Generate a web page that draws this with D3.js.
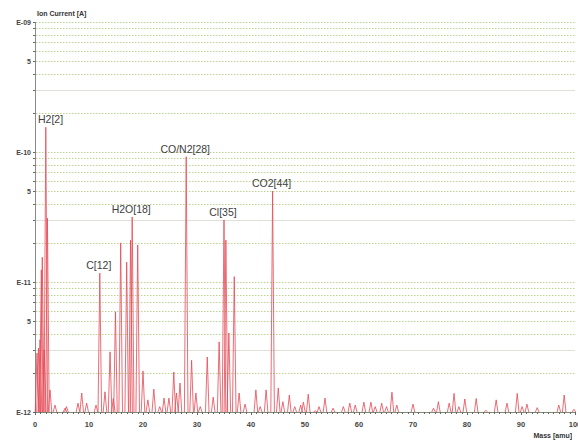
<!DOCTYPE html>
<html>
<head>
<meta charset="utf-8">
<script src="https://cdn.jsdelivr.net/npm/d3@7/dist/d3.min.js"></script>
<style>
  html, body { margin: 0; padding: 0; background: #ffffff; }
  svg { display: block; }
  text { font-family: "Liberation Sans", Arial, sans-serif; }
</style>
</head>
<body>
<svg id="chart" width="578" height="440"></svg>
<script>
// Mass spectrum: peak positions (amu) and peak ion currents (A)
const peakMass = [
  0.37, 0.65, 0.93, 1.17, 1.35, 1.72, 2, 2.3, 2.78, 3.7, 5.56, 5.83, 7.96, 8.65, 9.57,
  11.3, 12, 12.96, 13.9, 14.5, 14.9, 15.87, 16.98, 17.7, 18, 19.02, 20.0, 20.9, 22.0,
  23.1, 23.9, 24.8, 25.7, 26.2, 26.85, 28, 29.0, 29.8, 30.6, 31.9, 33.0, 34.1, 35,
  35.35, 35.9, 36.9, 37.8, 38.9, 40.9, 41.7, 42.8, 44, 45.05, 45.9, 47.1, 48.1, 49.2,
  49.7, 50.6, 51.9, 52.6, 53.7, 55.2, 57.1, 58.3, 59.3, 60.9, 62.2, 63.0, 64.2, 65.1,
  66.1, 67.0, 70.0, 73.8, 74.7, 76.7, 77.6, 78.5, 79.6, 81.7, 83.5, 85.4, 87.4, 89.3,
  90.2, 91.1, 93.0, 97.0, 98.0, 99.8
];
const peakCurrent = [
  2.84e-12, 3.1e-12, 3.6e-12, 1.24e-11, 1.55e-11, 3.0e-12, 1.55e-10, 3.1e-11, 1.48e-12, 1.13e-12, 1.07e-12, 1.1e-12, 1.17e-12, 1.4e-12, 1.17e-12,
  1.13e-12, 1.17e-11, 1.43e-12, 2.9e-12, 1.27e-12, 5.9e-12, 2.0e-11, 1.42e-11, 2.1e-11, 3.16e-11, 1.93e-11, 2.07e-12, 1.24e-12, 1.5e-12,
  1.1e-12, 1.28e-12, 1.28e-12, 2.03e-12, 1.4e-12, 1.67e-12, 9.2e-11, 2.5e-12, 1.4e-12, 1.1e-12, 2.65e-12, 1.3e-12, 3.46e-12, 3.0e-11,
  2.1e-11, 4.05e-12, 1.1e-11, 1.4e-12, 1.15e-12, 1.48e-12, 1.1e-12, 1.48e-12, 5.0e-11, 1.53e-12, 1.2e-12, 1.35e-12, 1.1e-12, 1.13e-12,
  1.19e-12, 1.37e-12, 1.02e-12, 1.1e-12, 1.28e-12, 1.07e-12, 1.1e-12, 1.17e-12, 1.13e-12, 1.19e-12, 1.19e-12, 1.1e-12, 1.17e-12, 1.1e-12,
  1.42e-12, 1.13e-12, 1.15e-12, 1.07e-12, 1.2e-12, 1.17e-12, 1.39e-12, 1.1e-12, 1.26e-12, 1.27e-12, 1.03e-12, 1.24e-12, 1.17e-12, 1.39e-12,
  1.1e-12, 1.15e-12, 1.08e-12, 1.13e-12, 1.35e-12, 1.05e-12
];

// Identified species and their nominal masses
const speciesNames = ["H2[2]", "C[12]", "H2O[18]", "CO/N2[28]", "Cl[35]", "CO2[44]"];
const speciesMass = [2, 12, 18, 28, 35, 44];

// Axis ticks
const xTickValues = [0, 10, 20, 30, 40, 50, 60, 70, 80, 90, 100];
const yLabelValues = [1e-9, 5e-10, 1e-10, 5e-11, 1e-11, 5e-12, 1e-12];
const yLabelText = ["E-09", "5", "E-10", "5", "E-11", "5", "E-12"];

const svg = d3.select("#chart");
const margin = { left: 35, right: 3, top: 22, bottom: 28 };
const W = 578, H = 440;

const x = d3.scaleLinear().domain([0, 100]).range([margin.left, W - margin.right]);
const y = d3.scaleLog().domain([1e-12, 1e-9]).range([H - margin.bottom, margin.top]);

// Horizontal grid at every 1..9 step of each decade
const gridVals = [];
for (let e = -12; e < -9; e++) {
  for (let k = 1; k <= 9; k++) gridVals.push(k * Math.pow(10, e));
}
gridVals.push(1e-9);

const grid = svg.append("g");
gridVals.forEach(v => {
  const lead = Math.round(v / Math.pow(10, Math.floor(Math.log10(v) + 1e-9)));
  const isThree = lead === 3;
  grid.append("line")
    .attr("x1", x(0) + 1).attr("x2", x(100))
    .attr("y1", Math.round(y(v)) + 0.5).attr("y2", Math.round(y(v)) + 0.5)
    .attr("stroke", isThree ? "#e0e0da" : "#bcd491")
    .attr("stroke-width", 1)
    .attr("stroke-dasharray", isThree ? null : "1.5,1.5");
});

// Y axis line and minor ticks
const yAxisG = svg.append("g");
yAxisG.append("line")
  .attr("x1", x(0) + 0.5).attr("x2", x(0) + 0.5)
  .attr("y1", y(1e-9)).attr("y2", y(1e-12))
  .attr("stroke", "#8a8a8a").attr("stroke-width", 1);
gridVals.forEach(v => {
  yAxisG.append("line")
    .attr("x1", x(0) - 2).attr("x2", x(0))
    .attr("y1", Math.round(y(v)) + 0.5).attr("y2", Math.round(y(v)) + 0.5)
    .attr("stroke", "#666").attr("stroke-width", 1);
});
yLabelValues.forEach((v, i) => {
  yAxisG.append("text")
    .attr("x", x(0) - 4).attr("y", y(v) + 2.5)
    .attr("text-anchor", "end")
    .attr("font-size", 7).attr("font-weight", "bold")
    .attr("fill", "#444")
    .text(yLabelText[i]);
});

// X axis
const xAxisG = svg.append("g");
xAxisG.append("line")
  .attr("x1", x(0)).attr("x2", x(100))
  .attr("y1", Math.round(y(1e-12)) + 0.5).attr("y2", Math.round(y(1e-12)) + 0.5)
  .attr("stroke", "#7d8a70").attr("stroke-width", 1);
d3.range(0, 101, 1).forEach(m => {
  xAxisG.append("line")
    .attr("x1", Math.round(x(m)) + 0.5).attr("x2", Math.round(x(m)) + 0.5)
    .attr("y1", y(1e-12)).attr("y2", y(1e-12) + (m % 10 === 0 ? 3 : 2))
    .attr("stroke", "#666").attr("stroke-width", 1);
});
xTickValues.forEach(m => {
  xAxisG.append("text")
    .attr("x", x(m)).attr("y", y(1e-12) + 15)
    .attr("text-anchor", "middle")
    .attr("font-size", 7.5).attr("font-weight", "bold")
    .attr("fill", "#444")
    .text(m);
});

// Axis titles
svg.append("text")
  .attr("x", 37).attr("y", 16)
  .attr("font-size", 7).attr("font-weight", "bold").attr("fill", "#333")
  .text("Ion Current [A]");
svg.append("text")
  .attr("x", 572).attr("y", 438)
  .attr("text-anchor", "end")
  .attr("font-size", 7).attr("font-weight", "bold").attr("fill", "#333")
  .text("Mass [amu]");

// Peaks: each drawn as a narrow spike from the baseline
const halfWidth = 0.33;
const spike = d3.line().x(d => x(d[0])).y(d => y(d[1]));
const peaksG = svg.append("g");
peakMass.forEach((m, i) => {
  const pts = [[Math.max(0, m - halfWidth), 1e-12], [m, peakCurrent[i]], [m + halfWidth, 1e-12]];
  peaksG.append("path")
    .attr("d", spike(pts))
    .attr("fill", "none")
    .attr("stroke", "#e54a55")
    .attr("stroke-width", 1)
    .attr("stroke-opacity", 0.8)
    .attr("stroke-linejoin", "miter");
});

// Species labels above their peaks, kept clear of the y axis
speciesNames.forEach((name, i) => {
  const idx = peakMass.indexOf(speciesMass[i]);
  const t = svg.append("text")
    .attr("x", x(speciesMass[i]) - 1)
    .attr("y", y(peakCurrent[idx]) - 4)
    .attr("text-anchor", "middle")
    .attr("font-size", 10.5)
    .attr("fill", "#404040")
    .text(name);
  const w = t.node().getComputedTextLength();
  const left = x(speciesMass[i]) - 1 - w / 2;
  if (left < x(0) + 3) t.attr("x", x(0) + 3 + w / 2);
});
</script>
</body>
</html>
